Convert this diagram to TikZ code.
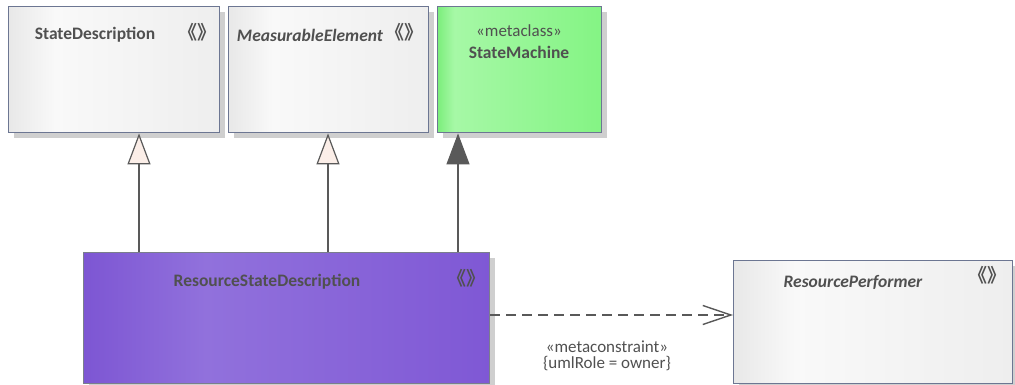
\documentclass[tikz,border=0pt]{standalone}
\usepackage{fontspec}
\setmainfont{Carlito}
\newfontfamily\cjk{Noto Sans CJK SC}[BoldFont={* Bold}]
\usetikzlibrary{arrows.meta,shadows}
\definecolor{txt}{HTML}{505050}
\definecolor{bord}{HTML}{6C7692}
\definecolor{bordp}{HTML}{7A7E8C}
\definecolor{shd}{HTML}{CFCFCF}
\definecolor{lnk}{HTML}{595959}
\definecolor{genfill}{HTML}{FBEEE8}
\definecolor{gA}{HTML}{E8E8E8}
\definecolor{gB}{HTML}{F9F9F9}
\definecolor{gC}{HTML}{EEEEEE}
\definecolor{pA}{HTML}{7D56D3}
\definecolor{pB}{HTML}{9171DC}
\definecolor{pC}{HTML}{7F58D5}
\definecolor{nA}{HTML}{7CEE7C}
\definecolor{nB}{HTML}{A6F8A6}
\definecolor{nC}{HTML}{84F484}
\pgfdeclarehorizontalshading{grayshade}{100bp}{color(0bp)=(gA); color(25bp)=(gA); color(36bp)=(gB); color(75bp)=(gC); color(100bp)=(gC)}
\pgfdeclarehorizontalshading{purpleshade}{100bp}{color(0bp)=(pA); color(25bp)=(pA); color(40bp)=(pB); color(75bp)=(pC); color(100bp)=(pC)}
\pgfdeclarehorizontalshading{greenshade}{100bp}{color(0bp)=(nA); color(25bp)=(nA); color(30bp)=(nB); color(75bp)=(nC); color(100bp)=(nC)}
\tikzset{
  cls/.style={draw=bord, line width=1.4pt, anchor=north west, inner sep=0pt,
    drop shadow={shadow xshift=5pt, shadow yshift=-5pt, opacity=1, fill=shd}},
  title/.style={text=txt, inner sep=0pt, font=\fontsize{17.5}{20}\selectfont\bfseries},
  ititle/.style={title, font=\fontsize{17.5}{20}\selectfont\bfseries\itshape},
  plain/.style={text=txt, inner sep=0pt, font=\fontsize{17}{20}\selectfont},
  stereo/.style={text=txt, inner sep=0pt, font=\fontsize{19}{22}\selectfont\cjk\bfseries},
  gen/.style={draw=lnk, line width=1.4pt, -{Triangle[length=31pt,width=23pt,fill=genfill,line width=1.2pt]}},
  genfull/.style={draw=lnk, line width=1.4pt, -{Triangle[length=31pt,width=23pt,fill=lnk,line width=1.2pt]}},
  dep/.style={draw=lnk, line width=1.4pt, dash pattern=on 10pt off 6pt, -{Straight Barb[length=28pt,width=19pt,line width=1.4pt]}}
}
\begin{document}
\begin{tikzpicture}[x=1pt,y=-1pt]
\useasboundingbox (0,0) rectangle (1015,385);
% boxes
\node[cls, shading=grayshade, minimum width=211pt, minimum height=126pt] (sd) at (8,6) {};
\node[cls, shading=grayshade, minimum width=200pt, minimum height=126pt] (me) at (228,6) {};
\node[cls, shading=greenshade, minimum width=164pt, minimum height=126pt] (sm) at (437,6) {};
\node[cls, shading=purpleshade, draw=bordp, minimum width=406pt, minimum height=131pt] (rsd) at (83,252) {};
\node[cls, shading=grayshade, minimum width=279pt, minimum height=123pt] (rp) at (733,260) {};
% texts
\node[title] (sdt) at (95,35) {StateDescription};
\node[stereo] (sds) at (197,32) {《》};
\node[ititle] (met) at (310,35) {MeasurableElement};
\node[stereo] (mes) at (404,32) {《》};
\node[plain] (smm) at (519,31) {«metaclass»};
\node[title] (smt) at (519,52) {StateMachine};
\node[title] (rsdt) at (267,282) {ResourceStateDescription};
\node[stereo] (rsds) at (466,278) {《》};
\node[ititle] (rpt) at (853,282) {ResourcePerformer};
\node[stereo] (rps) at (987,275) {《》};
% connector anchors
\coordinate (g1) at (139,0);
\coordinate (g2) at (328,0);
\coordinate (g3) at (458,0);
\coordinate (dy) at (0,315);
\draw[gen] (rsd.north -| g1) -- (sd.south -| g1);
\draw[gen] (rsd.north -| g2) -- (me.south -| g2);
\draw[genfull] (rsd.north -| g3) -- (sm.south -| g3);
\draw[dep] (rsd.east |- dy) -- (rp.west |- dy);
\node[plain] (dl1) at (607,347) {«metaconstraint»};
\node[plain] (dl2) at (607,364) {\{umlRole = owner\}};
\end{tikzpicture}
\end{document}
